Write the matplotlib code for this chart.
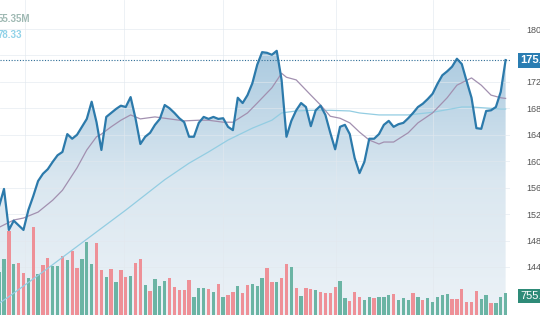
import matplotlib.pyplot as plt
import numpy as np
from matplotlib.colors import LinearSegmentedColormap
from matplotlib.patches import PathPatch
from matplotlib.transforms import blended_transform_factory

# daily closes
close = [
    153.2, 155.8, 149.6, 151.0, 150.3, 149.6, 152.6, 154.7, 157.0, 158.1,
    158.8, 159.9, 160.9, 161.4, 164.1, 163.4, 164.0, 165.2, 166.4, 169.0,
    165.9, 161.7, 166.7, 167.3, 167.9, 168.4, 168.2, 169.7, 166.5, 162.6,
    163.7, 164.3, 165.5, 166.4, 168.5, 168.0, 167.3, 166.5, 165.9, 163.7,
    163.7, 165.8, 166.7, 166.4, 166.7, 166.4, 166.5, 165.2, 164.7, 169.6,
    168.8, 170.0, 171.8, 174.6, 176.5, 176.4, 176.1, 176.7, 172.3, 163.7,
    166.1, 167.7, 168.8, 168.2, 165.3, 167.7, 168.4, 167.0, 164.3, 161.8,
    165.2, 165.5, 164.1, 160.5, 158.2, 159.9, 163.4, 163.4, 164.1, 165.5,
    166.1, 165.2, 165.6, 165.8, 166.5, 167.3, 168.2, 168.7, 169.4, 170.2,
    171.7, 173.0, 173.6, 174.3, 175.5, 174.7, 172.1, 169.6, 165.0, 164.9,
    167.6, 167.7, 168.2, 170.5, 175.3,
]

volume_m = [
    43, 56, 84, 51, 52, 42, 37, 88, 41, 50,
    57, 49, 49, 59, 55, 64, 47, 56, 73, 51,
    72, 45, 38, 46, 33, 45, 38, 39, 52, 56,
    30, 24, 36, 29, 34, 37, 28, 25, 25, 35,
    18, 27, 27, 26, 23, 31, 18, 20, 23, 29,
    22, 30, 31, 29, 37, 47, 33, 33, 37, 51,
    48, 27, 19, 27, 26, 25, 23, 22, 22, 28,
    34, 17, 14, 23, 18, 15, 18, 17, 18, 18,
    20, 21, 15, 17, 15, 22, 18, 15, 17, 13,
    18, 20, 21, 16, 16, 26, 13, 13, 24, 16,
    20, 12, 12, 18, 22,
]

# 1 = up day (green bar), 0 = down day (red bar)
volume_up = [
    1, 1, 0, 1, 0, 0, 1, 0, 1, 0,
    0, 1, 1, 0, 1, 0, 0, 1, 1, 1,
    0, 0, 1, 0, 1, 0, 0, 1, 0, 0,
    1, 0, 1, 1, 1, 0, 0, 0, 0, 0,
    1, 1, 1, 0, 1, 0, 1, 0, 0, 1,
    0, 0, 1, 1, 1, 0, 0, 1, 0, 0,
    1, 0, 1, 0, 0, 1, 0, 0, 0, 0,
    1, 1, 0, 0, 0, 1, 1, 0, 1, 1,
    1, 0, 1, 1, 1, 0, 1, 0, 1, 1,
    1, 1, 1, 0, 0, 0, 0, 0, 0, 1,
    1, 0, 1, 1, 1,
]

ma_short_days = [0, 3, 5, 8, 11, 13, 16, 18, 20, 21, 23, 25, 27, 29, 32, 34, 38, 41, 43, 46,
                 48, 51, 53, 56, 58, 59, 61, 64, 66, 68, 70, 72, 74, 76, 78, 79, 81, 84, 86, 89,
                 92, 94, 97, 99, 101, 103, 104]
ma_short = [150.0, 151.1, 151.4, 152.3, 154.1, 155.6, 159.0, 161.7, 163.7, 164.1,
            165.2, 166.2, 167.0, 166.4, 166.7, 166.5, 166.1, 166.2, 166.2, 165.9,
            165.9, 167.3, 168.8, 171.1, 173.3, 172.7, 172.3, 170.0, 168.5, 166.8,
            166.5, 165.8, 164.4, 163.2, 162.6, 162.9, 162.9, 164.3, 165.8, 167.3,
            169.6, 171.5, 172.6, 171.5, 170.0, 169.6, 169.5]

ma_long_days = [0, 2, 10, 18, 26, 34, 39, 43, 47, 52, 56, 58, 61, 64, 68, 72, 74, 78, 84, 89,
                95, 97, 101, 103, 104]
ma_long = [138.5, 139.5, 143.8, 148.2, 152.6, 157.2, 159.7, 161.4, 163.2, 165.0,
           166.2, 167.3, 167.6, 167.7, 167.7, 167.6, 167.3, 167.0, 167.0, 167.4,
           168.2, 168.2, 168.0, 167.9, 167.9]

price_ticks = [144, 148, 152, 156, 160, 164, 168, 172, 176, 180]
month_days = [5.3, 25.6, 46.0, 69.2, 89.1]

LINE = "#2c7aab"
UP = "#6bb4a4"
DOWN = "#ee9097"
Y_LO, Y_HI = 136.73, 184.39

plt.rcParams["font.family"] = ["Liberation Sans", "DejaVu Sans"]

days = np.arange(len(close))
fig = plt.figure(figsize=(5.4, 3.15), dpi=100)
rect = [0, 0, 510 / 540, 1]
ax = fig.add_axes(rect)
axv = fig.add_axes(rect, sharex=ax)
axp = fig.add_axes(rect, sharex=ax)

# gradient area under the close line
cmap = LinearSegmentedColormap.from_list("area", ["#ecf2f7", "#dae7f0", "#a9c9df"])
poly = ax.fill_between(days, close, Y_LO, color="none", lw=0)
clip = PathPatch(poly.get_paths()[0], transform=ax.transData, fc="none", ec="none")
ax.add_patch(clip)
grad = np.linspace(0, 1, 256).reshape(-1, 1)
im = ax.imshow(grad, extent=[days[0], days[-1], Y_LO, 177.5], origin="lower",
               cmap=cmap, aspect="auto", zorder=1)
im.set_clip_path(clip)
for t in price_ticks:
    ax.axhline(t, color="#e2e8ee", lw=0.6, alpha=0.7, zorder=2)
for d in month_days:
    ax.axvline(d, color="#e2e8ee", lw=0.6, alpha=0.7, zorder=2)
ax.set_xlim(0.18, 104.9)
ax.set_ylim(Y_LO, Y_HI)
ax.axis("off")

# volume bars
axv.bar(days, volume_m, width=0.68, color=[UP if u else DOWN for u in volume_up], lw=0)
axv.set_ylim(0, 315)
axv.axis("off")

# price line and moving averages
axp.plot(ma_long_days, ma_long, color="#93cde2", lw=0.9)
axp.plot(ma_short_days, ma_short, color="#a290b0", lw=0.9)
axp.plot(days, close, color=LINE, lw=1.6, solid_joinstyle="round")
axp.axhline(close[-1], color="#2d6d96", lw=0.8, ls=(0, (1, 1.5)))
axp.set_ylim(Y_LO, Y_HI)
axp.patch.set_visible(False)
for s in axp.spines.values():
    s.set_visible(False)
axp.xaxis.set_visible(False)
axp.yaxis.tick_right()
axp.set_yticks(price_ticks)
axp.tick_params(axis="y", length=0, pad=11.5, labelsize=6.5, labelcolor="#555555")

tr = blended_transform_factory(axp.transAxes, axp.transData)
axp.text(520 / 510, close[-1], "175.30", transform=tr, ha="left", va="center",
         fontsize=8, fontweight="bold", color="white", clip_on=False, zorder=5,
         bbox=dict(boxstyle="square,pad=0.22", fc="#2a7db2", ec="none"))
fig.text(520 / 540, 1 - 296 / 315, "755.5", ha="left", va="center", fontsize=8,
         color="white", bbox=dict(boxstyle="square,pad=0.22", fc="#2e8b78", ec="none"))

fig.text(-0.004, 1 - 19 / 315, "55.35M", ha="left", va="center", fontsize=7,
         fontweight="bold", color="#9fb9b3")
fig.text(-0.004, 1 - 35 / 315, "78.33", ha="left", va="center", fontsize=7,
         fontweight="bold", color="#90d2e8")

fig.savefig("out.png", dpi=100)
